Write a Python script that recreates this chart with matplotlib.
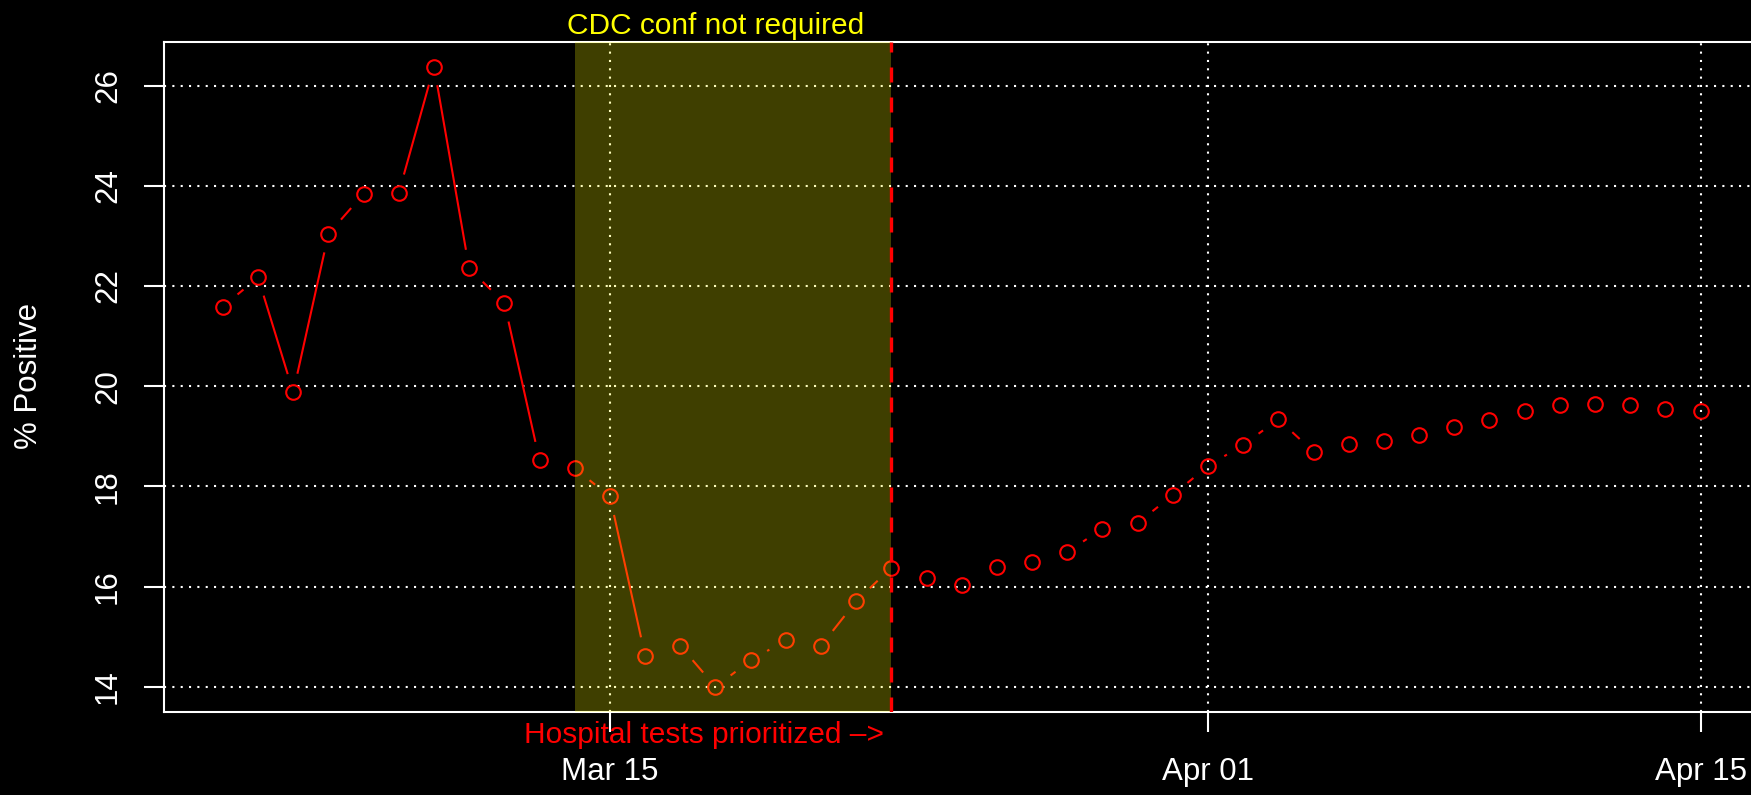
import numpy as np
import matplotlib
matplotlib.use("Agg")
import matplotlib.pyplot as plt
import matplotlib.dates as mdates
import matplotlib.transforms as mtransforms

plt.rcParams['font.family'] = ['Liberation Sans', 'DejaVu Sans']

# daily % positive tests, one value per day starting Mar 04
start_date = np.datetime64('2020-03-04')
pct_positive = [21.59, 22.17, 19.88, 23.04, 23.84, 23.86, 26.38, 22.35, 21.66, 18.52,
                18.36, 17.80, 14.62, 14.82, 14.00, 14.53, 14.93, 14.82, 15.71, 16.38,
                16.18, 16.04, 16.40, 16.49, 16.69, 17.16, 17.27, 17.83, 18.41, 18.83,
                19.34, 18.69, 18.85, 18.90, 19.03, 19.18, 19.32, 19.50, 19.63, 19.65,
                19.63, 19.54, 19.50]
tick_dates = ['2020-03-15', '2020-04-01', '2020-04-15']
tick_labels = ['Mar 15', 'Apr 01', 'Apr 15']
y_ticks = [14, 16, 18, 20, 22, 24, 26]
cdc_start, cdc_end = '2020-03-14', '2020-03-23'
cdc_label = 'CDC conf not required'
cdc_label_date = '2020-03-18'
hosp_label = 'Hospital tests prioritized \u2013>'

dates = start_date + np.arange(len(pct_positive)).astype('timedelta64[D]')
x = mdates.date2num(dates.astype('datetime64[s]').astype(object))
y = np.array(pct_positive)

def dnum(s):
    return mdates.date2num(np.datetime64(s).astype('datetime64[s]').astype(object))

fig = plt.figure(figsize=(17.51, 7.95), dpi=100, facecolor='black')
W, H = 1751, 795
left, right, top, bottom = 163.8, 1759.7, 41.7, 711.7
ax = fig.add_axes([left / W, 1 - bottom / H, (right - left) / W, (bottom - top) / H])
ax.set_facecolor('black')

# R style 4% axis extension
xr = x.max() - x.min()
yr = y.max() - y.min()
ax.set_xlim(x.min() - 0.04 * xr, x.max() + 0.04 * xr)
ax.set_ylim(y.min() - 0.04 * yr, y.max() + 0.04 * yr)

# grid
for yt in y_ticks:
    ax.axhline(yt, color='white', lw=1.5, ls=(0, (1, 3)), zorder=1)
for td in tick_dates:
    ax.axvline(dnum(td), color='white', lw=1.5, ls=(0, (1, 3)), zorder=1)

# points + gapped segments (type="b")
ax.plot(x, y, 'o', mfc='none', mec='red', ms=10.5, mew=1.5, zorder=3)
pix = ax.transData.transform(np.column_stack([x, y]))
inv = ax.transData.inverted()
gap = 20
for p0, p1 in zip(pix[:-1], pix[1:]):
    d = p1 - p0
    L = np.hypot(d[0], d[1])
    if L > 2 * gap:
        u = d / L
        seg = inv.transform(np.array([p0 + u * gap, p1 - u * gap]))
        ax.plot(seg[:, 0], seg[:, 1], color='red', lw=1.5, zorder=3)

ax.axvspan(dnum(cdc_start), dnum(cdc_end), color=(1, 1, 0), alpha=0.25, lw=0, zorder=4)
ax.axvline(dnum(cdc_end), color='red', lw=2.4, ls=(0, (4.5, 4.5)), zorder=5)

# texts
tr = mtransforms.blended_transform_factory(ax.transData, fig.transFigure)
ax.text(dnum(cdc_label_date), 1 - 33.5 / H, cdc_label, color='yellow', fontsize=21.5,
        ha='center', va='baseline', transform=tr, clip_on=False)
ax.text(dnum(cdc_end) - 0.2, 1 - 743 / H, hosp_label, color='red', fontsize=21.5,
        ha='right', va='baseline', transform=tr, clip_on=False)
fig.text(29 / W, 1 - 376 / H, '% Positive', color='white', fontsize=22.5,
         rotation=90, ha='center', va='center')

# axes
ax.set_xticks([dnum(t) for t in tick_dates])
ax.set_xticklabels(tick_labels)
ax.set_yticks(y_ticks)
ax.tick_params(colors='white', direction='out', length=14.4, width=1.5, labelsize=22.5)
ax.tick_params(axis='x', pad=18)
ax.tick_params(axis='y', pad=15)
for lbl in ax.get_yticklabels():
    lbl.set_rotation(90)
    lbl.set_va('center')
for s in ax.spines.values():
    s.set_color('white')
    s.set_linewidth(1.5)

fig.savefig('out.png', dpi=100, facecolor='black')
